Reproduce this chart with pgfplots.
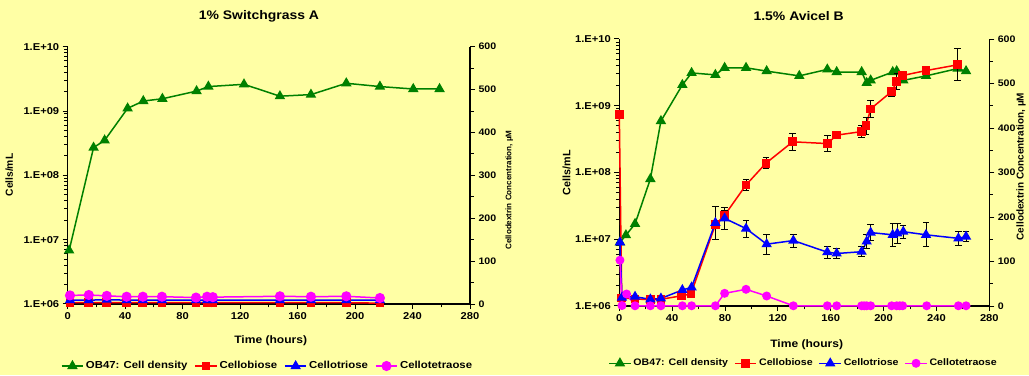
\documentclass[border=0pt]{standalone}
\usepackage{fontspec}
\setmainfont{Liberation Sans}[FakeStretch=1.12]
\newfontfamily\plainfont{Liberation Sans}
\usepackage{pgfplots}
\pgfplotsset{compat=1.18}
\definecolor{bgyellow}{RGB}{255,255,165}
\definecolor{xlgreen}{RGB}{0,128,0}
\definecolor{xlred}{RGB}{255,0,0}
\definecolor{xlblue}{RGB}{0,0,255}
\definecolor{xlmag}{RGB}{255,0,255}
\pgfplotsset{
  panel/.style={scale only axis, xmin=0, xmax=280, xtick={0,40,...,280}, minor x tick num=1,
    axis line style={line width=1.4bp, black}, tick style={black, line width=1bp},
    major tick length=5bp, minor tick length=3.5bp, tick align=outside,
    tick label style={font=\fontsize{10}{12}\selectfont},
    /pgf/number format/assume math mode=true, clip=false},
  gstyle/.style={color=xlgreen, line width=1.5bp, mark=triangle*, mark size=4.6bp, mark options={solid}},
  rstyle/.style={color=xlred, line width=1.5bp, mark=square*, mark size=3.6bp, mark options={solid}},
  bstyle/.style={color=xlblue, line width=1.5bp, mark=triangle*, mark size=4.5bp, mark options={solid}},
  mstyle/.style={color=xlmag, line width=1.5bp, mark=*, mark size=3.9bp, mark options={solid}},
  ebar/.style={error bars/.cd, y dir=both, y explicit, error bar style={black, line width=0.7bp},
    error mark options={black, rotate=90, mark size=3.2bp, line width=0.7bp}},
  legend image code/.code={\draw[mark repeat=2,mark phase=2] plot coordinates {(0cm,0cm)(0.38cm,0cm)(0.76cm,0cm)};},
  logminor/.style={minor ytick={2e6,3e6,4e6,5e6,6e6,7e6,8e6,9e6,2e7,3e7,4e7,5e7,6e7,7e7,8e7,9e7,2e8,3e8,4e8,5e8,6e8,7e8,8e8,9e8,2e9,3e9,4e9,5e9,6e9,7e9,8e9,9e9}},
}
\begin{document}
\bfseries
\begin{tikzpicture}[x=1bp,y=1bp]
\useasboundingbox (0,0) rectangle (1029,375);
\fill[bgyellow] (0,0) rectangle (1029,375);
\begin{scope}
\clip (0,0) rectangle (1029,375);
% ---------------- Left panel: primary
\begin{axis}[panel, at={(67.7bp,71bp)}, anchor=south west, width=402.3bp, height=257.3bp,
  ymode=log, ymin=1e6, ymax=1e10, ytick={1e6,1e7,1e8,1e9,1e10},
  yticklabels={1.E+06,1.E+07,1.E+08,1.E+09,1.E+10}, logminor,
  axis x line*=bottom, axis y line*=left]
\addplot[gstyle] coordinates {(1,6.8e6) (18,2.7e8) (25.7,3.5e8) (41.7,1.1e9) (52.6,1.43e9) (65.9,1.55e9) (89.7,2.04e9) (97.9,2.4e9) (122.7,2.6e9) (147.7,1.7e9) (169.3,1.8e9) (193.9,2.7e9) (217.3,2.4e9) (240.5,2.2e9) (258.8,2.2e9)};
\end{axis}
% ---------------- Left panel: secondary
\begin{axis}[panel, at={(67.7bp,71bp)}, anchor=south west, width=402.3bp, height=257.3bp,
  ymin=0, ymax=600, ytick={0,100,...,600}, minor y tick num=1,
  tick label style={font=\fontsize{9.5}{11}\selectfont},
  axis y line*=right, axis x line=none,
  legend columns=4,
  legend style={at={(0.4967,-0.241)}, anchor=center, draw=none, fill=none,
    font=\bfseries\fontsize{10.2}{12}\selectfont,
    /tikz/every even column/.append style={column sep=5bp}}]
\addlegendimage{gstyle}
\addlegendentry{OB47: Cell density}
\addplot[rstyle] coordinates {(1.6,3) (14.7,3) (27.2,3) (41,3) (52.3,3) (65.6,3) (89.3,3) (97,3) (101,3) (147.7,3) (169.3,3) (193.9,3) (217.3,2)};
\addlegendentry{Cellobiose}
\addplot[bstyle] coordinates {(1.6,9) (14.7,9) (27.2,10) (41,9) (52.3,9) (65.6,9) (89.3,9) (97,9) (101,9) (147.7,9) (169.3,9) (193.9,9) (217.3,9)};
\addlegendentry{Cellotriose}
\addplot[mstyle, mark size=4.3bp] coordinates {(1.6,20) (14.7,21) (27.2,19) (41,17) (52.3,17) (65.6,17) (89.3,15) (97,17) (101,16) (147.7,18) (169.3,17) (193.9,18) (217.3,14)};
\addlegendentry{Cellotetraose}
\end{axis}
% ---------------- Right panel: primary
\begin{axis}[panel, at={(619.3bp,69bp)}, anchor=south west, width=370bp, height=267bp,
  ymode=log, ymin=1e6, ymax=1e10, ytick={1e6,1e7,1e8,1e9,1e10},
  yticklabels={1.E+06,1.E+07,1.E+08,1.E+09,1.E+10}, logminor,
  axis x line*=bottom, axis y line*=left]
\addplot[gstyle] coordinates {(0.5,9e6) (5,1.15e7) (11.9,1.7e7) (23.5,8e7) (31.5,5.9e8) (47.7,2.05e9) (54.7,3.1e9) (72.7,2.9e9) (79.7,3.7e9) (95.9,3.7e9) (111.5,3.3e9) (136.2,2.8e9) (157.4,3.5e9) (164.5,3.2e9) (183.4,3.2e9) (187.2,2.2e9) (190.2,2.4e9) (206.9,3.2e9) (209.9,3.3e9) (214.9,2.4e9) (232.1,2.8e9) (256,3.6e9) (262.4,3.3e9)};
\end{axis}
% ---------------- Right panel: secondary
\begin{axis}[panel, at={(619.3bp,69bp)}, anchor=south west, width=370bp, height=267bp,
  ymin=0, ymax=600, ytick={0,100,...,600}, minor y tick num=1,
  tick label style={font=\fontsize{9.5}{11}\selectfont},
  axis y line*=right, axis x line=none,
  legend columns=4,
  legend style={at={(0.498,-0.2146)}, anchor=center, draw=none, fill=none,
    font=\bfseries\fontsize{9.5}{11}\selectfont,
    /tikz/every even column/.append style={column sep=4bp}}]
\addlegendimage{gstyle}
\addlegendentry{OB47: Cell density}
\addplot[rstyle, ebar] table[x=t, y=v, y error=e] {
t v e
0 430 0
1.8 18 0
11.9 16 0
23.5 14 0
31.5 15 0
47.2 23 0
54.2 27 0
72.7 183 8
79.7 204 10
95.9 272 12
111 321 12
131.2 369 20
157.4 365 18
164.5 384 5
183.4 392 14
186.7 405 19
190.2 443 20
206.1 482 10
210 504 18
214.4 518 8
232 529 6
256 542 36
};
\addlegendentry{Cellobiose}
\addplot[bstyle, ebar] table[x=t, y=v, y error=e] {
t v e
0.5 143 0
2 19 0
11.9 21 0
23.5 15 0
31.5 17 0
47.7 36 0
54.7 42 0
72.7 187 38
79.7 197 25
95.9 174 19
111.5 139 22
131.7 147 15
157.4 121 13
164.5 118 12
183.4 122 11
187.2 145 16
190.2 165 18
206.9 160 25
210.4 163 22
214.9 167 14
232.1 160 27
256.6 152 16
262.4 156 11
};
\addlegendentry{Cellotriose}
\addplot[mstyle, mark size=3.7bp] coordinates {(0.5,103) (2,1) (5.5,27) (11.9,0.5) (23.5,0.5) (31.5,0.5) (47.7,0.5) (54.7,0.5) (72.7,0.5) (79.7,28.5) (95.9,37.5) (111.5,22.5) (131.7,0.5) (157.4,0.5) (164.5,0.5) (183.4,0.5) (185.3,0.5) (187.2,0.5) (190.2,0.5) (206.1,0.5) (209.9,0.5) (212.2,0.5) (214.4,0.5) (232.6,0.5) (256.6,0.5) (262.4,0.5)};
\addlegendentry{Cellotetraose}
\end{axis}
% ---------------- Titles and labels
\node[font=\fontsize{12.5}{14}\selectfont] at (259,359) {1\% Switchgrass A};
\node[font=\fontsize{12.5}{14}\selectfont] at (798.7,359) {1.5\% Avicel B};
\node[font=\fontsize{10.8}{13}\selectfont] at (270.7,34.3) {Time (hours)};
\node[font=\fontsize{10.8}{13}\selectfont] at (806.7,30.7) {Time (hours)};
\node[font=\plainfont\bfseries\fontsize{10.3}{12}\selectfont, rotate=90] at (9.3,200) {Cells/mL};
\node[font=\plainfont\bfseries\fontsize{10.8}{12}\selectfont, rotate=90] at (566.7,202.3) {Cells/mL};
\node[font=\plainfont\bfseries\fontsize{8.1}{10}\selectfont, rotate=90] at (509.3,185) {Cellodextrin Concentration, µM};
\node[font=\plainfont\bfseries\fontsize{10}{12}\selectfont, rotate=90, inner sep=1bp] at (1021,208.5) {Cellodextrin Concentration, µM};
\end{scope}
\end{tikzpicture}
\end{document}
